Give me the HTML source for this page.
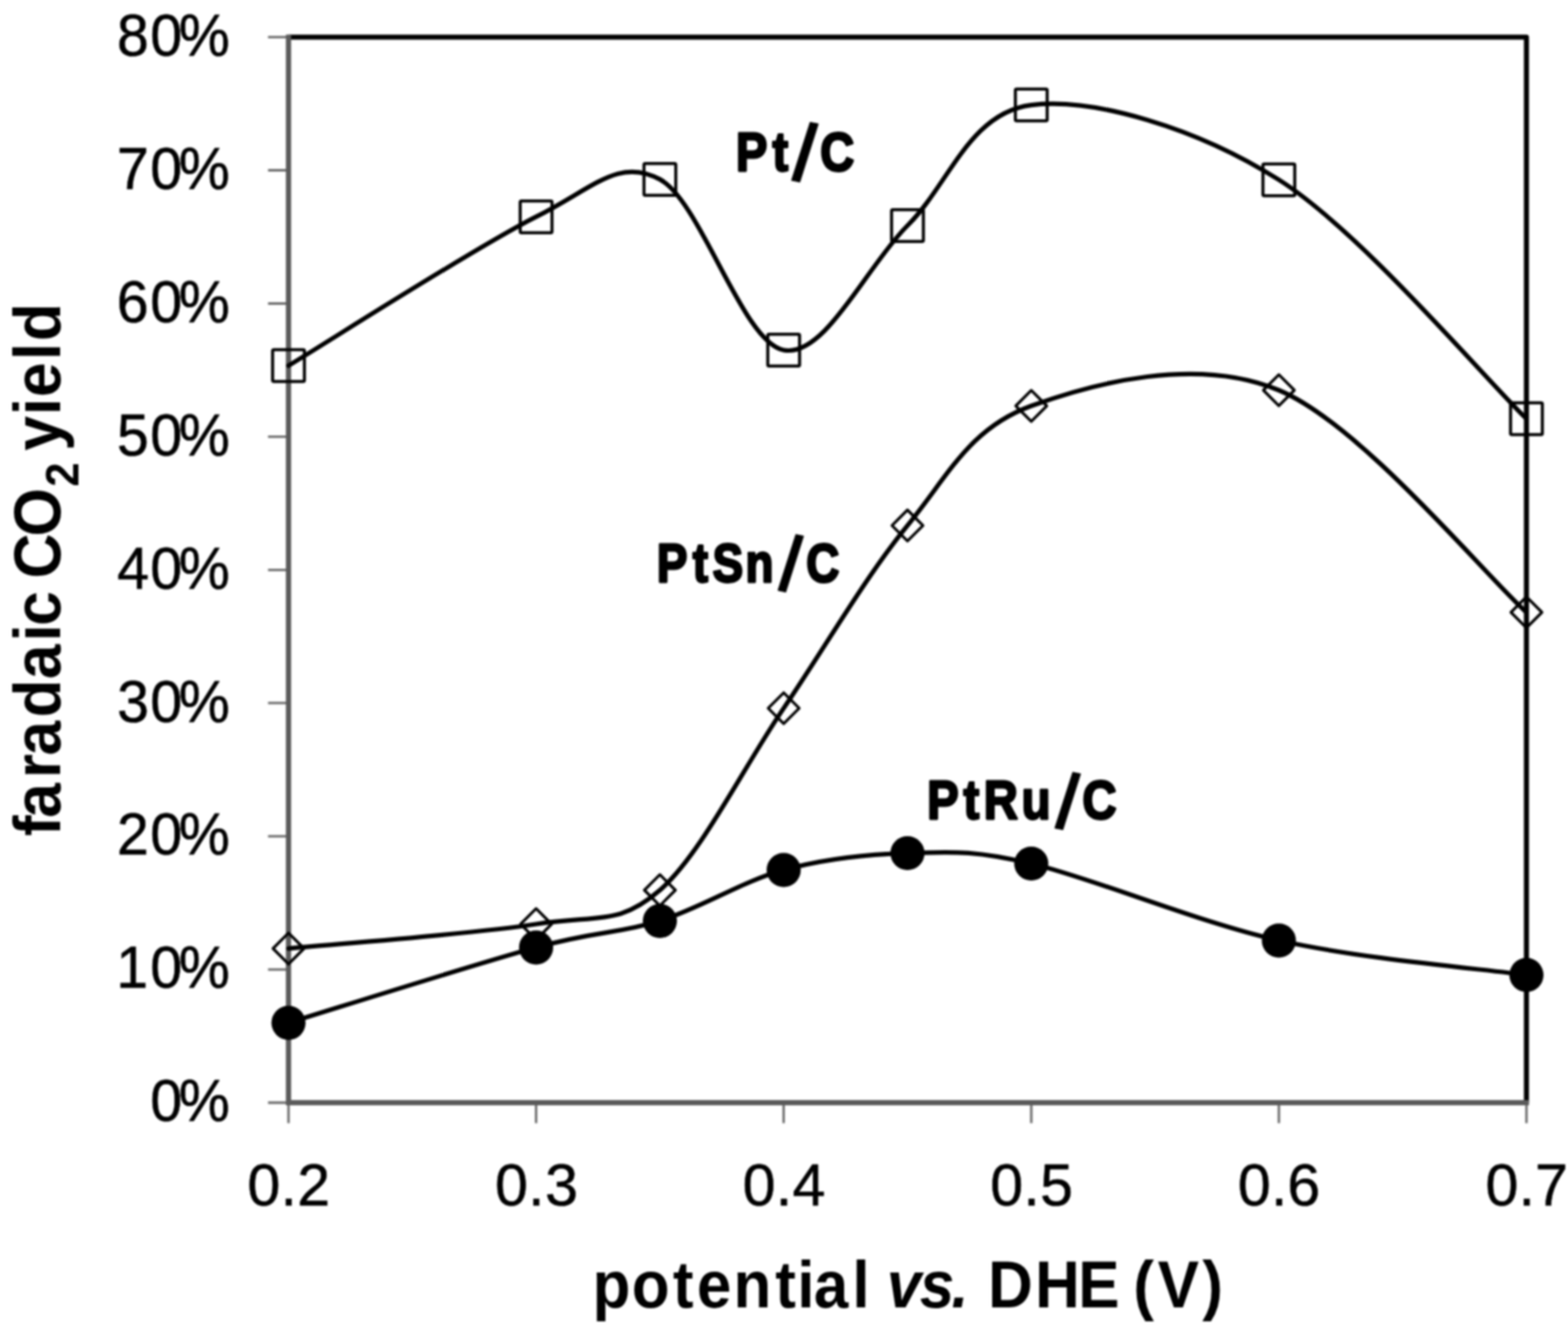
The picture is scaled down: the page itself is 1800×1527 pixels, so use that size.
<!DOCTYPE html>
<html><head><meta charset="utf-8"><title>faradaic CO2 yield vs potential</title>
<style>
html,body{margin:0;padding:0;background:#fff;overflow:hidden}
svg{display:block;filter:blur(0.80px)}
.t{font-family:'Liberation Sans', Arial, sans-serif;fill:#000}
.b{font-family:'Liberation Sans', Arial, sans-serif;font-weight:bold;fill:#000}
.bi{font-family:'Liberation Sans', Arial, sans-serif;font-weight:bold;font-style:italic;fill:#000}
</style></head><body>
<svg width="1800" height="1527" viewBox="0 0 1800 1527">
<rect x="0" y="0" width="1800" height="1527" fill="#ffffff"/>
<path d="M331.2,42.6 H1752.3 V1266.0" fill="none" stroke="#000" stroke-width="5.8" stroke-linejoin="round"/>
<path d="M307.7,1266.0 H331.2 M307.7,1113.1 H331.2 M307.7,960.1 H331.2 M307.7,807.2 H331.2 M307.7,654.3 H331.2 M307.7,501.4 H331.2 M307.7,348.5 H331.2 M307.7,195.5 H331.2 M307.7,42.6 H331.2 M331.2,1266.0 V1289.5 M615.4,1266.0 V1289.5 M899.6,1266.0 V1289.5 M1183.9,1266.0 V1289.5 M1468.1,1266.0 V1289.5 M1752.3,1266.0 V1289.5" fill="none" stroke="#6e6e6e" stroke-width="2.8"/>
<path d="M331.2,39.7 V1266.0 H1755.2" fill="none" stroke="#5a5a5a" stroke-width="6.0"/>
<path d="M331.20,419.80 C378.57,391.32 544.36,284.55 615.42,248.90 C681.77,215.61 710.16,180.38 757.53,205.90 C804.90,231.42 852.27,393.15 899.64,402.00 C947.01,410.85 994.38,305.90 1041.75,259.00 C1089.12,212.10 1112.80,129.37 1183.86,120.60 C1254.91,111.83 1373.34,146.38 1468.08,206.40 C1562.82,266.42 1704.93,434.98 1752.30,480.70" fill="none" stroke="#000" stroke-width="5.2" stroke-linejoin="round" stroke-linecap="round"/>
<path d="M331.20,1089.00 C378.57,1084.33 544.36,1072.17 615.42,1061.00 C686.47,1049.83 710.16,1063.32 757.53,1022.00 C804.90,980.68 852.27,882.88 899.64,813.10 C947.01,743.32 994.38,661.15 1041.75,603.30 C1089.12,545.45 1112.80,491.88 1183.86,466.00 C1254.91,440.12 1373.34,408.50 1468.08,448.00 C1562.82,487.50 1704.93,660.50 1752.30,703.00" fill="none" stroke="#000" stroke-width="5.2" stroke-linejoin="round" stroke-linecap="round"/>
<path d="M331.20,1174.30 C378.57,1159.88 544.36,1107.30 615.42,1087.80 C685.50,1068.57 710.16,1072.13 757.53,1057.30 C804.90,1042.47 852.27,1011.77 899.64,998.80 C947.01,985.83 994.38,980.72 1041.75,979.50 C1089.12,978.28 1114.45,975.17 1183.86,991.50 C1254.91,1008.22 1373.34,1058.48 1468.08,1079.80 C1562.82,1101.12 1704.93,1112.80 1752.30,1119.40" fill="none" stroke="#000" stroke-width="5.2" stroke-linejoin="round" stroke-linecap="round"/>
<rect x="312.95" y="401.55" width="36.5" height="36.5" rx="1.5" fill="none" stroke="#000" stroke-width="3.5"/>
<rect x="597.17" y="230.65" width="36.5" height="36.5" rx="1.5" fill="none" stroke="#000" stroke-width="3.5"/>
<rect x="739.28" y="187.65" width="36.5" height="36.5" rx="1.5" fill="none" stroke="#000" stroke-width="3.5"/>
<rect x="881.39" y="383.75" width="36.5" height="36.5" rx="1.5" fill="none" stroke="#000" stroke-width="3.5"/>
<rect x="1023.50" y="240.75" width="36.5" height="36.5" rx="1.5" fill="none" stroke="#000" stroke-width="3.5"/>
<rect x="1165.61" y="102.35" width="36.5" height="36.5" rx="1.5" fill="none" stroke="#000" stroke-width="3.5"/>
<rect x="1449.83" y="188.15" width="36.5" height="36.5" rx="1.5" fill="none" stroke="#000" stroke-width="3.5"/>
<rect x="1734.05" y="462.45" width="36.5" height="36.5" rx="1.5" fill="none" stroke="#000" stroke-width="3.5"/>
<path d="M331.20,1071.20 L349.00,1089.00 L331.20,1106.80 L313.40,1089.00 Z" fill="none" stroke="#000" stroke-width="3.2" stroke-linejoin="round"/>
<path d="M615.42,1043.20 L633.22,1061.00 L615.42,1078.80 L597.62,1061.00 Z" fill="none" stroke="#000" stroke-width="3.2" stroke-linejoin="round"/>
<path d="M757.53,1004.20 L775.33,1022.00 L757.53,1039.80 L739.73,1022.00 Z" fill="none" stroke="#000" stroke-width="3.2" stroke-linejoin="round"/>
<path d="M899.64,795.30 L917.44,813.10 L899.64,830.90 L881.84,813.10 Z" fill="none" stroke="#000" stroke-width="3.2" stroke-linejoin="round"/>
<path d="M1041.75,585.50 L1059.55,603.30 L1041.75,621.10 L1023.95,603.30 Z" fill="none" stroke="#000" stroke-width="3.2" stroke-linejoin="round"/>
<path d="M1183.86,448.20 L1201.66,466.00 L1183.86,483.80 L1166.06,466.00 Z" fill="none" stroke="#000" stroke-width="3.2" stroke-linejoin="round"/>
<path d="M1468.08,430.20 L1485.88,448.00 L1468.08,465.80 L1450.28,448.00 Z" fill="none" stroke="#000" stroke-width="3.2" stroke-linejoin="round"/>
<path d="M1752.30,685.20 L1770.10,703.00 L1752.30,720.80 L1734.50,703.00 Z" fill="none" stroke="#000" stroke-width="3.2" stroke-linejoin="round"/>
<circle cx="331.20" cy="1174.30" r="19.6" fill="#000"/>
<circle cx="615.42" cy="1087.80" r="19.6" fill="#000"/>
<circle cx="757.53" cy="1057.30" r="19.6" fill="#000"/>
<circle cx="899.64" cy="998.80" r="19.6" fill="#000"/>
<circle cx="1041.75" cy="979.50" r="19.6" fill="#000"/>
<circle cx="1183.86" cy="991.50" r="19.6" fill="#000"/>
<circle cx="1468.08" cy="1079.80" r="19.6" fill="#000"/>
<circle cx="1752.30" cy="1119.40" r="19.6" fill="#000"/>
<text class="t" font-size="69.30" stroke="#000" stroke-width="0.63" stroke-linejoin="round" transform="scale(0.9500,1)" x="181.59 216.13" y="1287.30">0%</text>
<text class="t" font-size="69.30" stroke="#000" stroke-width="0.63" stroke-linejoin="round" transform="scale(0.9500,1)" x="140.44 181.59 216.13" y="1134.38">10%</text>
<text class="t" font-size="69.30" stroke="#000" stroke-width="0.63" stroke-linejoin="round" transform="scale(0.9500,1)" x="141.38 181.59 216.13" y="981.45">20%</text>
<text class="t" font-size="69.30" stroke="#000" stroke-width="0.63" stroke-linejoin="round" transform="scale(0.9500,1)" x="141.57 181.59 216.13" y="828.52">30%</text>
<text class="t" font-size="69.30" stroke="#000" stroke-width="0.63" stroke-linejoin="round" transform="scale(0.9500,1)" x="141.57 181.59 216.13" y="675.60">40%</text>
<text class="t" font-size="69.30" stroke="#000" stroke-width="0.63" stroke-linejoin="round" transform="scale(0.9500,1)" x="141.44 181.59 216.13" y="522.67">50%</text>
<text class="t" font-size="69.30" stroke="#000" stroke-width="0.63" stroke-linejoin="round" transform="scale(0.9500,1)" x="141.13 181.59 216.13" y="369.75">60%</text>
<text class="t" font-size="69.30" stroke="#000" stroke-width="0.63" stroke-linejoin="round" transform="scale(0.9500,1)" x="141.38 181.59 216.13" y="216.83">70%</text>
<text class="t" font-size="69.30" stroke="#000" stroke-width="0.63" stroke-linejoin="round" transform="scale(0.9500,1)" x="141.38 181.59 216.13" y="63.90">80%</text>
<text class="t" font-size="69.30" stroke="#000" stroke-width="0.61" stroke-linejoin="round" transform="scale(0.9800,1)" x="289.93 328.64 348.20" y="1383.90">0.2</text>
<text class="t" font-size="69.30" stroke="#000" stroke-width="0.61" stroke-linejoin="round" transform="scale(0.9800,1)" x="579.95 618.66 638.41" y="1383.90">0.3</text>
<text class="t" font-size="69.30" stroke="#000" stroke-width="0.61" stroke-linejoin="round" transform="scale(0.9800,1)" x="869.97 908.68 928.43" y="1383.90">0.4</text>
<text class="t" font-size="69.30" stroke="#000" stroke-width="0.61" stroke-linejoin="round" transform="scale(0.9800,1)" x="1159.99 1198.70 1218.32" y="1383.90">0.5</text>
<text class="t" font-size="69.30" stroke="#000" stroke-width="0.61" stroke-linejoin="round" transform="scale(0.9800,1)" x="1450.02 1488.72 1508.03" y="1383.90">0.6</text>
<text class="t" font-size="69.30" stroke="#000" stroke-width="0.61" stroke-linejoin="round" transform="scale(0.9800,1)" x="1740.04 1778.74 1798.30" y="1383.90">0.7</text>
<text class="b" font-size="63.00" stroke="#000" stroke-width="2.79" stroke-linejoin="round" transform="scale(0.8613,1)" x="980.78 1029.67 1054.48 1093.15" y="195.60 195.60 204.91 195.60">Pt<tspan font-size="93.54" rotate="9.62" stroke-width="1.16">/</tspan>C</text>
<text class="b" font-size="63.00" stroke="#000" stroke-width="2.87" stroke-linejoin="round" transform="scale(0.8359,1)" x="901.92 951.34 978.66 1023.82 1067.97 1107.34" y="668.00 668.00 668.00 668.00 675.80 668.00">PtSn<tspan font-size="90.22" rotate="10.19" stroke-width="1.20">/</tspan>C</text>
<text class="b" font-size="63.00" stroke="#000" stroke-width="2.78" stroke-linejoin="round" transform="scale(0.8642,1)" x="1231.50 1279.69 1306.85 1357.04 1400.69 1437.85" y="940.30 940.30 940.30 940.30 948.87 940.30">PtRu<tspan font-size="89.85" rotate="9.56" stroke-width="1.16">/</tspan>C</text>
<text class="b" font-size="76.00" transform="scale(0.9358,1)" y="1500.80"><tspan x="727.01 774.91 825.45 854.96 899.71 951.07 978.09 998.42 1045.52">potential</tspan> <tspan class="bi" x="1087.89 1128.42 1167.30">vs.</tspan> <tspan x="1212.08 1269.88 1322.55 1373.24 1390.37 1420.22 1474.90">DHE (V)</tspan></text>
<text class="b" font-size="76.00" transform="rotate(-90) scale(0.9436,1)" y="69.40"><tspan x="-1017.30 -995.01 -946.96 -919.24 -873.05 -826.30 -780.49 -761.45">faradaic</tspan> <tspan x="-704.09 -652.88">CO</tspan><tspan font-size="52.90" x="-592.22" y="89.60">2</tspan> <tspan x="-548.41 -505.18 -483.14 -438.31 -415.04" y="69.40">yield</tspan></text>
</svg>
</body></html>
